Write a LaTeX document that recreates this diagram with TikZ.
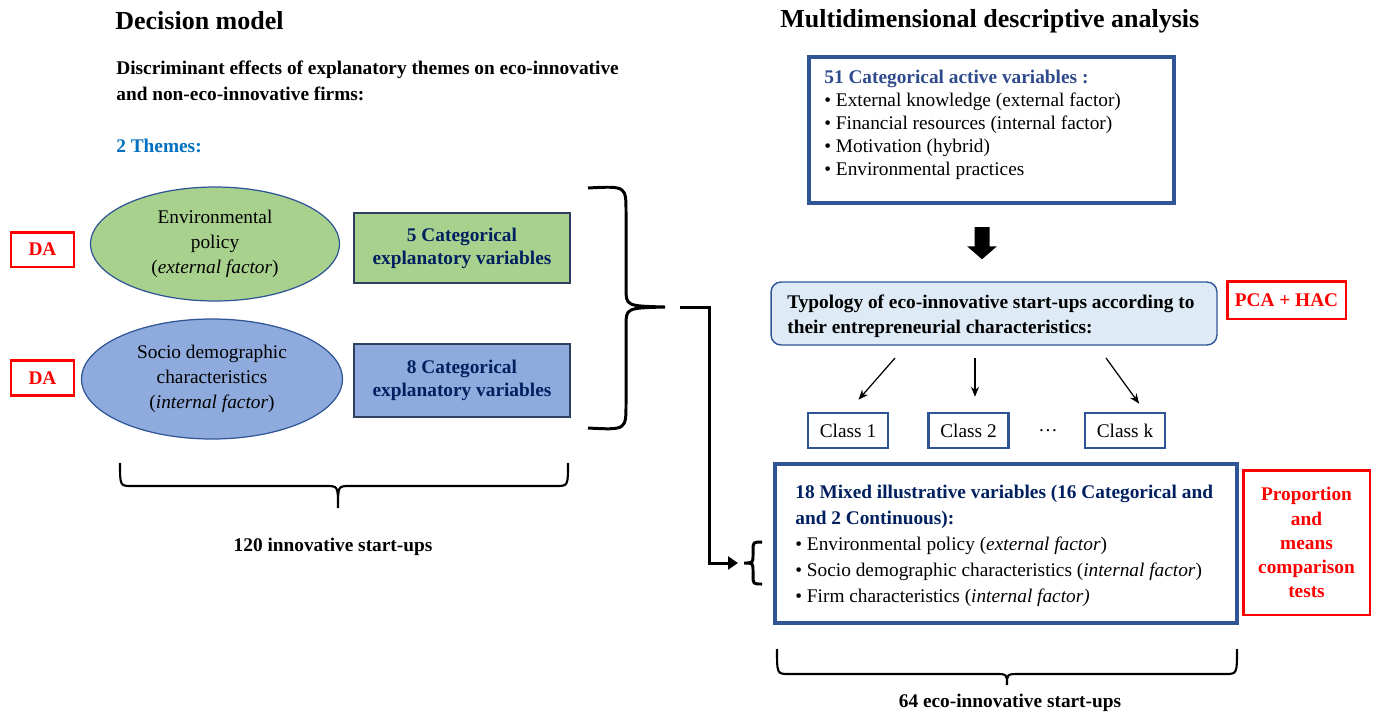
\documentclass[tikz,border=0pt]{standalone}
\usepackage{fontspec}
\setmainfont{Liberation Serif}
\usetikzlibrary{shapes.geometric,arrows.meta}

\definecolor{boxblue}{HTML}{2F5597}
\definecolor{navy}{HTML}{002060}
\definecolor{actblue}{HTML}{2F4B8C}
\definecolor{themeblue}{HTML}{0070C0}
\definecolor{ellgreen}{HTML}{A9D18E}
\definecolor{ellblue}{HTML}{8FAADC}
\definecolor{paleblue}{HTML}{DEEBF7}
\definecolor{rectline}{HTML}{2F3F5F}

\tikzset{
  title/.style={anchor=west, inner sep=0, font=\fontsize{14.8}{17}\selectfont\bfseries},
  bold/.style={font=\fontsize{11}{13}\selectfont\bfseries},
  redbox/.style={rectangle, draw=red, line width=1.7pt, text=red, align=center, font=\fontsize{11}{13.7}\selectfont\bfseries},
  theme/.style={ellipse, draw=boxblue, line width=0.7pt, align=center, inner sep=0, font=\fontsize{11}{14.2}\selectfont},
  varbox/.style={rectangle, draw=rectline, line width=0.7pt, minimum width=4.32cm, align=center, text=navy, font=\fontsize{11}{13.2}\selectfont\bfseries},
  bigbox/.style={rectangle, draw=boxblue, line width=2.3pt},
  classbox/.style={rectangle, draw=boxblue, line width=1.4pt, minimum width=1.6cm, minimum height=0.7cm, font=\fontsize{11}{13}\selectfont},
  brace/.style={line width=1.7pt},
  thinarrow/.style={line width=0.7pt, -{Stealth[length=0.2cm,width=0.16cm]}},
}

\begin{document}
\begin{tikzpicture}[x=0.02cm, y=-0.02cm]
\useasboundingbox (0,0) rectangle (1376,714);

% decision model
\node[title] (T1) at (115,21) {Decision model};
\node[anchor=north west, inner sep=0, align=left, font=\fontsize{11}{14.8}\selectfont\bfseries] (disc) at (116,61) {Discriminant effects of explanatory themes on eco-innovative\\and non-eco-innovative firms:};
\node[anchor=west, inner sep=0, text=themeblue, bold] (themes) at (116,146) {2 Themes:};

\node[theme, fill=ellgreen, minimum width=4.98cm, minimum height=2.28cm] (E1) at (215,244) {Environmental\\policy\\(\textit{external factor})};
\node[theme, fill=ellblue, minimum width=5.22cm, minimum height=2.4cm] (E2) at (212,379) {Socio demographic\\characteristics\\(\textit{internal factor})};

\node[redbox, minimum width=1.26cm, minimum height=0.7cm] (DA1) at (42.5,249.5) {DA};
\node[redbox, minimum width=1.26cm, minimum height=0.7cm] (DA2) at (42.5,378) {DA};

\node[varbox, fill=ellgreen, minimum height=1.4cm] (V1) at (462,248) {5 Categorical\\explanatory variables};
\node[varbox, fill=ellblue, minimum height=1.46cm] (V2) at (462,380.5) {8 Categorical\\explanatory variables};

% right brace and bottom brace
\coordinate (lbr) at (665,307);
\draw[brace] (588,188) .. controls (626,186) .. (626,212) -- (626,288)
  .. controls (626,306) .. (lbr) .. controls (626,308) .. (626,326)
  -- (626,404) .. controls (626,430) .. (588,428);
\draw[line width=1.2pt] (120,463) .. controls (120,486) .. (132,486) -- (326,486)
  .. controls (338,486) .. (338,508) .. controls (338,486) .. (350,486)
  -- (556,486) .. controls (568,486) .. (568,463);
\node[bold] (n120) at (333,547) {120 innovative start-ups};

% multidimensional analysis
\node[title] (T2) at (780,21) {Multidimensional descriptive analysis};

\node[bigbox, minimum width=7.3cm, minimum height=2.92cm] (act) at (991.5,130) {};
\node[anchor=north west, inner sep=0, align=left, font=\fontsize{11}{13}\selectfont] (actlist) at (824,70) {\textcolor{actblue}{\bfseries 51 Categorical active variables :}\\
\textbullet{} External knowledge (external factor)\\
\textbullet{} Financial resources (internal factor)\\
\textbullet{} Motivation (hybrid)\\
\textbullet{} Environmental practices};

\node[rectangle, rounded corners=0.2cm, draw=boxblue, line width=0.8pt, fill=paleblue, minimum width=8.92cm, minimum height=1.26cm] (typ) at (994,313.5) {};
\node[anchor=north west, inner sep=0, align=left, font=\fontsize{11}{14.2}\selectfont\bfseries] (typtext) at (787,295) {Typology of eco-innovative start-ups according to\\ their entrepreneurial characteristics:};
\node[redbox, minimum width=2.38cm, minimum height=0.76cm] (pca) at (1286.5,300) {PCA + HAC};

\draw[line width=0.3cm, -{Triangle[width=0.58cm,length=0.26cm]}, shorten <=0.44cm, shorten >=0.44cm] ([xshift=-0.19cm]act.south) -- ([xshift=-0.24cm]typ.north);

\node[classbox] (c1) at (848,430.5) {Class 1};
\node[classbox] (c2) at (968.5,430.5) {Class 2};
\node[font=\fontsize{11}{13}\selectfont] (dots) at (1048,431) {\dots};
\node[classbox] (ck) at (1125,430.5) {Class k};

\coordinate (a1) at (895,358);
\coordinate (a2) at (975,358);
\coordinate (a3) at (1106,358);
\draw[thinarrow, shorten >=0.32cm] (a1) -- (c1.north);
\draw[thinarrow, shorten >=0.3cm] (a2) -- (a2 |- c2.north);
\draw[thinarrow, shorten >=0.2cm] (a3) -- ([xshift=0.4cm]ck.north);

\node[bigbox, minimum width=9.24cm, minimum height=3.18cm] (mix) at (1006,543.5) {};
\node[anchor=north west, inner sep=0, align=left, font=\fontsize{11}{14.8}\selectfont] (mixlist) at (795,485) {\textcolor{navy}{\bfseries 18 Mixed illustrative variables (16 Categorical and}\\
\textcolor{navy}{\bfseries and 2 Continuous):}\\
\textbullet{} Environmental policy (\textit{external factor})\\
\textbullet{} Socio demographic characteristics (\textit{internal factor})\\
\textbullet{} Firm characteristics (\textit{internal factor)}};
\node[redbox, minimum width=2.54cm, minimum height=2.9cm] (tests) at (1306.5,542.5) {Proportion\\and\\means\\comparison\\tests};

% joining line
\coordinate (sbr) at (744,563);
\draw[brace] (762,542) .. controls (753,542) .. (753,551) -- (753,555)
  .. controls (753,563) .. (sbr) .. controls (753,563) .. (753,571)
  -- (753,575) .. controls (753,584) .. (762,584);
\draw[line width=1.7pt, -{Triangle[width=0.26cm,length=0.2cm]}] ([xshift=0.3cm]lbr) -| ([xshift=-0.7cm]sbr) -- ([xshift=-0.12cm]sbr);

\draw[line width=1.2pt] (777,649) .. controls (777,674) .. (789,674) -- (995,674)
  .. controls (1007,674) .. (1007,685) .. controls (1007,674) .. (1019,674)
  -- (1225,674) .. controls (1237,674) .. (1237,649);
\node[bold] (n64) at (1010,703) {64 eco-innovative start-ups};
\end{tikzpicture}
\end{document}
